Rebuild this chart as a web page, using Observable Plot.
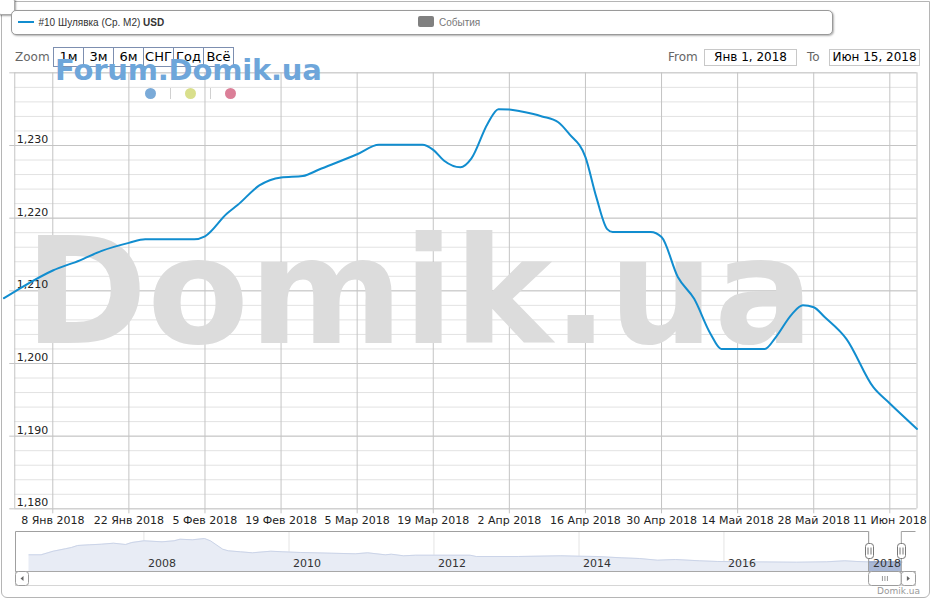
<!DOCTYPE html>
<html>
<head>
<meta charset="utf-8">
<script src="https://cdn.jsdelivr.net/npm/d3@7"></script>
<script src="https://cdn.jsdelivr.net/npm/@observablehq/plot@0.6"></script>
<style>
html,body{margin:0;padding:0;background:#fff;}
#wrap{position:relative;width:931px;height:600px;overflow:hidden;font-family:"DejaVu Sans",sans-serif;background:#fff;}
.abs{position:absolute;}
#legend{left:11px;top:10px;width:820px;height:23px;border:1px solid #9a9a9a;border-radius:5px;box-shadow:1px 1px 2px rgba(0,0,0,0.3);background:#fff;}
.lg{font-family:"Liberation Sans",Arial,sans-serif;font-size:10px;line-height:12px;white-space:nowrap;}
#btns{left:53px;top:47px;height:18px;border:1px solid #7d8fb0;display:flex;}
#btns span{display:block;width:29px;height:18px;line-height:18px;text-align:center;font-size:13px;color:#000;border-left:1px solid #7d8fb0;}
#btns span:first-child{border-left:none;}
.dbox{height:15px;border:1px solid #c8c8c8;font-size:12px;line-height:15px;text-align:center;color:#000;background:#fff;}
.dot{width:11px;height:11px;border-radius:50%;}
</style>
</head>
<body>
<div id="wrap">
  <div class="abs" style="left:1px;top:1px;width:927px;height:595px;border:1px solid #b5b5b5;border-radius:0 0 6px 6px;"></div>
  <div id="chart" class="abs" style="left:0;top:0;"></div>
  <div id="nav" class="abs" style="left:0;top:531px;"></div>
  <div class="abs" style="left:-3px;top:-3px;width:16px;height:16px;border:1px solid #aaa;border-radius:4px;box-shadow:1px 1px 2px rgba(0,0,0,0.35);background:#fff;"></div>
  <div id="legend" class="abs"></div>
  <div class="abs" style="left:18px;top:21px;width:16px;height:2px;background:#118dcf;"></div>
  <div class="abs lg" id="seriesLabel" style="left:38.5px;top:16.5px;color:#333;"></div>
  <div class="abs" style="left:418px;top:16px;width:16px;height:11px;border-radius:2px;background:#808080;"></div>
  <div class="abs lg" id="eventsLabel" style="left:439px;top:16.5px;color:#777;"></div>

  <div class="abs" style="left:15px;top:47.5px;font-size:12px;line-height:19px;color:#666;">Zoom</div>
  <div id="btns" class="abs"></div>

  <div class="abs" style="left:668px;top:47.5px;font-size:12px;line-height:19px;color:#666;">From</div>
  <div class="abs dbox" id="fromBox" style="left:704px;top:48.5px;width:91px;"></div>
  <div class="abs" style="left:807px;top:47.5px;font-size:12px;line-height:19px;color:#666;">To</div>
  <div class="abs dbox" id="toBox" style="left:829px;top:48.5px;width:89px;"></div>

  <div class="abs" style="left:55px;top:56px;font-size:29px;line-height:29px;font-weight:bold;color:#6ea6da;white-space:nowrap;letter-spacing:-0.2px;">Forum.Domik.ua</div>
  <div class="abs dot" style="left:144.5px;top:88px;background:#7aaad8;"></div>
  <div class="abs" style="left:170px;top:88px;width:1px;height:11px;background:#d0d0d0;"></div>
  <div class="abs dot" style="left:184.5px;top:88px;background:#d9df8c;"></div>
  <div class="abs" style="left:210px;top:88px;width:1px;height:11px;background:#d0d0d0;"></div>
  <div class="abs dot" style="left:225px;top:88px;background:#db7f98;"></div>

  <div class="abs" style="left:850px;top:585.5px;width:70px;text-align:right;font-size:9px;line-height:11px;color:#999;">Domik.ua</div>
</div>
<script>
// ---------- data ----------
const seriesName = "#10 Шулявка (Ср. М2)";
const seriesUnit = "USD";
const eventsName = "События";
const zoomButtons = ["1м", "3м", "6м", "СНГ", "Год", "Всё"];
const fromLabel = "Янв 1, 2018";
const toLabel = "Июн 15, 2018";
const watermark = "Domik.ua";

const lineDates = ["2017-12-30","2018-01-01","2018-01-08","2018-01-13","2018-01-17","2018-01-22","2018-01-25","2018-02-03","2018-02-05","2018-02-09","2018-02-11","2018-02-15","2018-02-19","2018-02-23","2018-02-26","2018-03-05","2018-03-09","2018-03-17","2018-03-19","2018-03-21","2018-03-24","2018-03-26","2018-03-29","2018-03-31","2018-04-02","2018-04-04","2018-04-08","2018-04-11","2018-04-13","2018-04-16","2018-04-18","2018-04-20","2018-04-21","2018-04-28","2018-04-30","2018-05-03","2018-05-06","2018-05-09","2018-05-11","2018-05-19","2018-05-21","2018-05-24","2018-05-26","2018-05-28","2018-05-30","2018-06-03","2018-06-08","2018-06-11","2018-06-16"];
const lineValues = [1209.0,1209.9,1212.8,1214.2,1215.5,1216.6,1217.1,1217.1,1217.5,1220.6,1221.8,1224.5,1225.6,1225.8,1226.7,1228.8,1230.1,1230.1,1229.4,1227.9,1227.0,1228.2,1233.0,1235.0,1234.95,1234.7,1234.0,1233.2,1231.6,1228.4,1222.9,1218.5,1218.1,1218.1,1217.4,1211.9,1208.9,1204.1,1202.0,1202.0,1203.6,1206.8,1208.0,1207.75,1206.4,1203.4,1196.7,1194.5,1191.0];

const xDomain = ["2018-01-01", "2018-06-16"];
const xTickDates = ["2018-01-08","2018-01-22","2018-02-05","2018-02-19","2018-03-05","2018-03-19","2018-04-02","2018-04-16","2018-04-30","2018-05-14","2018-05-28","2018-06-11"];
const xTickLabels = ["8 Янв 2018","22 Янв 2018","5 Фев 2018","19 Фев 2018","5 Мар 2018","19 Мар 2018","2 Апр 2018","16 Апр 2018","30 Апр 2018","14 Май 2018","28 Май 2018","11 Июн 2018"];
const yDomain = [1180, 1240];
const yMajorTicks = [1180, 1190, 1200, 1210, 1220, 1230, 1240];
const yLabelTicks = [1180, 1190, 1200, 1210, 1220, 1230];
const yMinorStep = 2;

const navDates = ["2006-06","2006-08","2006-10","2006-12","2007-01","2007-02","2007-04","2007-06","2007-08","2007-10","2007-11","2008-01","2008-04","2008-06","2008-07","2008-09","2008-11","2008-12","2009-02","2009-03","2009-05","2009-07","2009-10","2009-12","2010-03","2010-08","2010-12","2011-02","2011-05","2011-06","2011-08","2011-10","2012-07","2012-08","2013-03","2013-10","2014-01","2014-04","2014-08","2014-11","2015-02","2015-05","2015-09","2015-12","2016-05","2017-01","2017-06","2017-09","2017-11","2018-01","2018-03","2018-06-15"];
const navValues = [2108,2108,2563,2866,3030,3283,3371,3447,3573,3409,3661,3876,3750,3876,4078,4002,4166,3876,2815,2613,2487,2361,2563,2487,2399,2310,2235,2361,2108,2184,1982,2058,2058,1894,1894,1982,1932,1894,1730,1641,1427,1515,1351,1263,1225,1174,1225,1351,1263,1210,1230,1191];
const navDomain = ["2006-03-25", "2018-08-28"];
const navYDomain = [0, 5050];
const navYears = ["2008","2010","2012","2014","2016","2018"];
const selRange = ["2018-01-01", "2018-06-15"];

// ---------- html bits ----------
document.getElementById("seriesLabel").innerHTML = seriesName + " <b>" + seriesUnit + "</b>";
document.getElementById("eventsLabel").textContent = eventsName;
document.getElementById("btns").innerHTML = zoomButtons.map(b => `<span>${b}</span>`).join("");
document.getElementById("fromBox").textContent = fromLabel;
document.getElementById("toBox").textContent = toLabel;

// ---------- main chart ----------
const parse = s => new Date(s);
const lineData = lineDates.map((d, i) => ({date: parse(d), value: lineValues[i]}));
const xTicks = xTickDates.map(parse);
const tickLabel = new Map(xTickDates.map((d, i) => [+parse(d), xTickLabels[i]]));
const yMinorTicks = d3.range(yDomain[0], yDomain[1] + 0.001, yMinorStep);
const GRID = "#c4c4c4";

const chart = Plot.plot({
  width: 931,
  height: 530,
  marginLeft: 14.25,
  marginRight: 14.5,
  marginTop: 72.33,
  marginBottom: 21.67,
  style: {fontFamily: "DejaVu Sans", fontSize: "11px", background: "transparent", overflow: "visible"},
  x: {type: "utc", domain: xDomain.map(parse), label: null},
  y: {domain: yDomain, label: null},
  marks: [
    Plot.gridY(yMinorTicks, {stroke: "#e2e2e2", strokeOpacity: 1}),
    Plot.gridY(yMajorTicks, {stroke: GRID, strokeOpacity: 1}),
    Plot.gridX(xTicks, {stroke: GRID, strokeOpacity: 1}),
    Plot.ruleX(xDomain.map(parse), {stroke: GRID}),
    Plot.text([watermark], {frameAnchor: "left", text: d => d, textAnchor: "start", lineAnchor: "bottom",
      dx: 9.75, dy: 51.67, fontSize: 148, fontWeight: "bold", fontFamily: "DejaVu Sans", fill: "#dcdcdc"}),
    Plot.axisY({ticks: yMajorTicks, tickSize: 5, tickFormat: () => "", stroke: GRID, anchor: "left", label: null}),
    Plot.text(yLabelTicks, {y: d => d, text: d => d3.format(",")(d), frameAnchor: "left", textAnchor: "start",
      dx: 2, dy: -6, fontSize: 11, fill: "#222"}),
    Plot.axisX({ticks: xTicks, tickSize: 5, tickPadding: 2, tickFormat: d => tickLabel.get(+d), stroke: GRID, fill: "#222", fontSize: 11, label: null}),
    Plot.line(lineData, {x: "date", y: "value", curve: "monotone-x", stroke: "#118dcf", strokeWidth: 2})
  ]
});
document.getElementById("chart").append(chart);

// ---------- navigator ----------
const navData = navDates.map((d, i) => ({date: parse(d), value: navValues[i]}));
const selStart = parse(selRange[0]), selEnd = parse(selRange[1]);
const navSel = navData.filter(d => d.date >= selStart);
const nav = Plot.plot({
  width: 931,
  height: 55,
  marginLeft: 15,
  marginRight: 15,
  marginTop: 0,
  marginBottom: 15,
  style: {fontFamily: "DejaVu Sans", fontSize: "11px", background: "transparent", overflow: "visible"},
  x: {type: "utc", domain: navDomain.map(parse), axis: null},
  y: {domain: navYDomain, axis: null},
  marks: [
    Plot.gridX(navYears.map(y => parse(y + "-01-01")), {stroke: "#e4e4e4", strokeOpacity: 1}),
    Plot.areaY(navData, {x: "date", y: "value", fill: "#e8ecf5"}),
    Plot.lineY(navData, {x: "date", y: "value", stroke: "#cbd4e8", strokeWidth: 1}),
    Plot.areaY(navSel, {x: "date", y: "value", fill: "#a9b8d6"}),
    Plot.lineY(navSel, {x: "date", y: "value", stroke: "#8fa2c8", strokeWidth: 1}),
    Plot.text(navYears, {x: d => parse(d + "-01-01"), text: d => d, frameAnchor: "bottom", textAnchor: "start",
      lineAnchor: "bottom", dx: 4, dy: -4.3, fontSize: 11, fill: "#333"})
  ]
});
document.getElementById("nav").append(nav);

// navigator chrome placed with the navigator's own x scale
const sx = nav.scale("x");
const hx0 = sx.apply(selStart), hx1 = sx.apply(selEnd);
const nL = 15.5, nR = 915.5, nTop = 0.5, nBot = 40.5, nSb = 54.5;
const g = d3.select(nav).append("g");
g.append("rect").attr("x", nL).attr("y", nBot).attr("width", nR - nL).attr("height", nSb - nBot)
  .attr("fill", "#fff").attr("stroke", "#d6d6d6");
g.append("line").attr("x1", nL).attr("x2", nR).attr("y1", nBot).attr("y2", nBot).attr("stroke", "#a8a8a8");
g.append("path").attr("d", `M${nL},${nBot}V${nTop}H${hx0}V${nBot}H${hx1}V${nTop}H${nR}`)
  .attr("fill", "none").attr("stroke", "#a0a0a0");
function btn(xa, xb, dir) {
  g.append("rect").attr("x", xa).attr("y", nBot).attr("width", xb - xa).attr("height", nSb - nBot)
    .attr("rx", 3).attr("fill", "#fff").attr("stroke", "#9c9c9c");
  const cx = (xa + xb) / 2, cy = (nBot + nSb) / 2;
  const p = dir < 0 ? `M${cx + 1.5},${cy - 2.5}L${cx - 1.5},${cy}L${cx + 1.5},${cy + 2.5}Z`
                    : `M${cx - 1.5},${cy - 2.5}L${cx + 1.5},${cy}L${cx - 1.5},${cy + 2.5}Z`;
  g.append("path").attr("d", p).attr("fill", "#666");
}
btn(nL, nL + 13, -1);
g.append("rect").attr("x", hx0).attr("y", nBot).attr("width", hx1 - hx0).attr("height", nSb - nBot)
  .attr("rx", 3).attr("fill", "#fff").attr("stroke", "#9c9c9c");
const tc = (hx0 + hx1) / 2;
[-2.5, 0, 2.5].forEach(o => g.append("line").attr("x1", tc + o).attr("x2", tc + o)
  .attr("y1", nBot + 4.5).attr("y2", nBot + 9.5).attr("stroke", "#999"));
btn(hx1, nR, 1);
[hx0, hx1].forEach(hx => {
  const xr = Math.round(hx) + 0.5;
  g.append("rect").attr("x", xr - 4).attr("y", 12.5).attr("width", 8).attr("height", 15)
    .attr("rx", 3).attr("fill", "#fff").attr("stroke", "#777");
  [-1.5, 1.5].forEach(o => g.append("line").attr("x1", xr + o).attr("x2", xr + o)
    .attr("y1", 16.5).attr("y2", 23.5).attr("stroke", "#777"));
});
</script>
</body>
</html>
